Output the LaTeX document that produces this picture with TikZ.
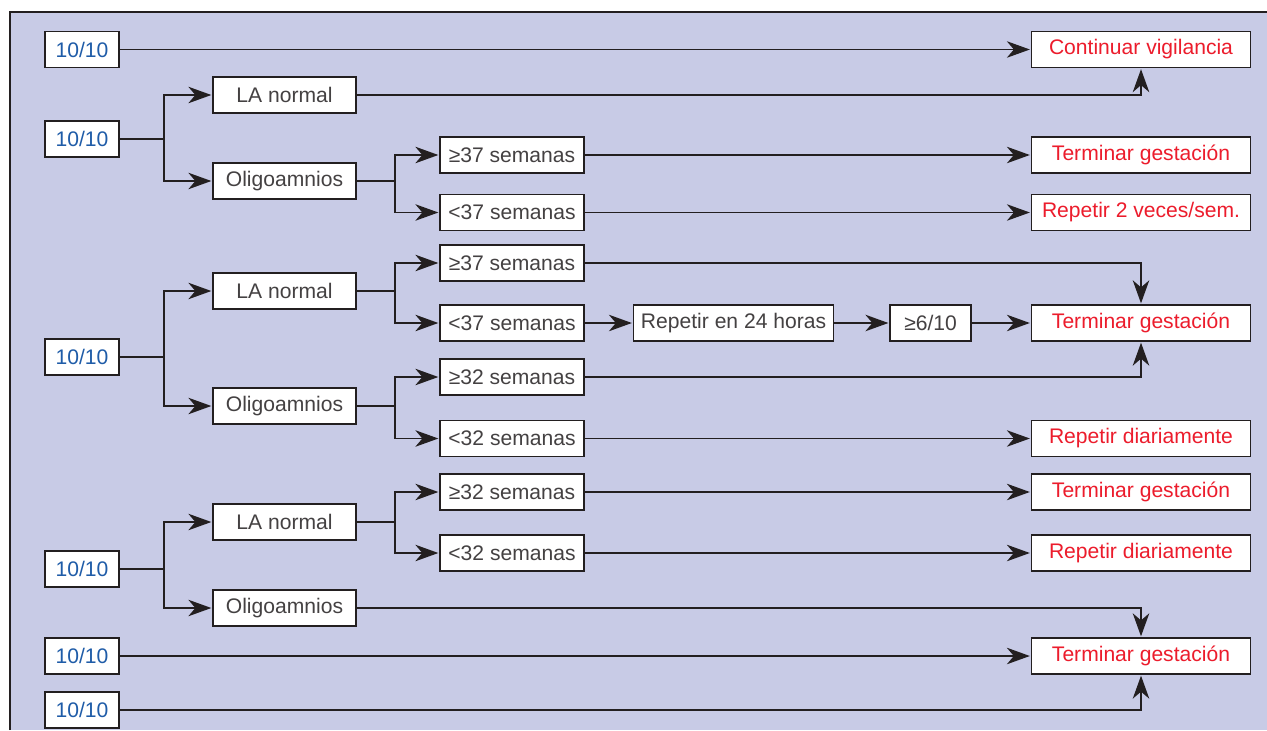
\documentclass[tikz,border=0pt]{standalone}
\usepackage{fontspec}
\setmainfont{Liberation Sans}
\usetikzlibrary{arrows.meta,positioning}
\definecolor{panelfill}{HTML}{C8CBE6}
\definecolor{scoreblue}{HTML}{1F5CA8}
\definecolor{actionred}{HTML}{EC1C2C}
\definecolor{ink}{HTML}{231F20}
\tikzset{
    diagrambox/.style={draw=ink, line width=0.9pt, fill=white, align=center, inner sep=0pt, font=\fontsize{12}{14}\selectfont, minimum height=0.72cm, text=ink!85},
    diagramscore/.style={diagrambox, minimum width=1.48cm, text=scoreblue},
    diagramfind/.style={diagrambox, minimum width=2.86cm},
    diagramweek/.style={diagrambox, minimum width=2.88cm},
    diagramaction/.style={diagrambox, minimum width=4.38cm, text=actionred},
    diagramline/.style={draw=ink, line width=0.85pt},
    diagramarrow/.style={diagramline, -{Stealth[length=4.6mm, width=3.3mm, inset=1.4mm]}, shorten >=0.5pt}
}

\begin{document}
\begin{tikzpicture}[x=0.02cm, y=-0.02cm, node distance=6mm and 7mm]
        \useasboundingbox (0,0) rectangle (1267,730);
        \fill[panelfill] (10,12) rectangle (1267,730);
        \draw[ink, line width=0.9pt] (10,730) -- (10,12) -- (1267,12);
        % puntuaciones
        \node[diagramscore] (pbf1) at (82,49.5) {10/10};
        \node[diagramscore] (pbf2) at (82,139) {10/10};
        \node[diagramscore] (pbf3) at (82,357) {10/10};
        \node[diagramscore] (pbf4) at (82,569) {10/10};
        \node[diagramscore] (pbf5) at (82,656) {10/10};
        \node[diagramscore] (pbf6) at (82,710) {10/10};
        % liquido amniotico
        \node[diagramfind] (la1) at (284.5,95) {LA normal};
        \node[diagramfind] (oli1) at (284.5,181) {Oligoamnios};
        \node[diagramfind] (la2) at (284.5,291) {LA normal};
        \node[diagramfind] (oli2) at (284.5,406) {Oligoamnios};
        \node[diagramfind] (la3) at (284.5,522) {LA normal};
        \node[diagramfind] (oli3) at (284.5,608) {Oligoamnios};
        % semanas
        \node[diagramweek] (w1) at (512,155) {≥37 semanas};
        \node[diagramweek] (w2) at (512,212.5) {<37 semanas};
        \node[diagramweek] (w3) at (512,263) {≥37 semanas};
        \node[diagramweek] (w4) at (512,323) {<37 semanas};
        \node[diagramweek] (w5) at (512,377) {≥32 semanas};
        \node[diagramweek] (w6) at (512,438.5) {<32 semanas};
        \node[diagramweek] (w7) at (512,492) {≥32 semanas};
        \node[diagramweek] (w8) at (512,553) {<32 semanas};
        \node[diagrambox, minimum width=4cm, right=0.96cm of w4] (rep24) {Repetir en 24 horas};
        \node[diagrambox, minimum width=1.62cm, right=1.1cm of rep24] (six) {≥6/10};
        % conducta
        \node[diagramaction] (cont) at (1141,49.5) {Continuar vigilancia};
        \node[diagramaction] (term1) at (1141,155) {Terminar gestación};
        \node[diagramaction] (rep2) at (1141,212.5) {Repetir 2 veces/sem.};
        \node[diagramaction] (term2) at (1141,323) {Terminar gestación};
        \node[diagramaction] (repd1) at (1141,438.5) {Repetir diariamente};
        \node[diagramaction] (term3) at (1141,492) {Terminar gestación};
        \node[diagramaction] (repd2) at (1141,553) {Repetir diariamente};
        \node[diagramaction] (term4) at (1141,656) {Terminar gestación};
        % primer nivel
        \draw[diagramarrow] (pbf1) -- (cont);
        \draw[diagramline] (pbf2.east) -- ++(44,0) coordinate (j2);
        \draw[diagramarrow] (j2) |- (la1);
        \draw[diagramarrow] (j2) |- (oli1);
        \draw[diagramline] (pbf3.east) -- ++(44,0) coordinate (j3);
        \draw[diagramarrow] (j3) |- (la2);
        \draw[diagramarrow] (j3) |- (oli2);
        \draw[diagramline] (pbf4.east) -- ++(44,0) coordinate (j4);
        \draw[diagramarrow] (j4) |- (la3);
        \draw[diagramarrow] (j4) |- (oli3);
        % segundo nivel
        \draw[diagramline] (oli1.east) -- ++(38,0) coordinate (k1);
        \draw[diagramarrow] (k1) |- (w1);
        \draw[diagramarrow] (k1) |- (w2);
        \draw[diagramline] (la2.east) -- ++(38,0) coordinate (k2);
        \draw[diagramarrow] (k2) |- (w3);
        \draw[diagramarrow] (k2) |- (w4);
        \draw[diagramline] (oli2.east) -- ++(38,0) coordinate (k3);
        \draw[diagramarrow] (k3) |- (w5);
        \draw[diagramarrow] (k3) |- (w6);
        \draw[diagramline] (la3.east) -- ++(38,0) coordinate (k4);
        \draw[diagramarrow] (k4) |- (w7);
        \draw[diagramarrow] (k4) |- (w8);
        % hacia la conducta
        \draw[diagramarrow] (la1.east) -| (cont.south);
        \draw[diagramarrow] (w1) -- (term1);
        \draw[diagramarrow] (w2) -- (rep2);
        \draw[diagramarrow] (w3.east) -| (term2.north);
        \draw[diagramarrow] (w4) -- (rep24);
        \draw[diagramarrow] (rep24) -- (six);
        \draw[diagramarrow] (six) -- (term2);
        \draw[diagramarrow] (w5.east) -| (term2.south);
        \draw[diagramarrow] (w6) -- (repd1);
        \draw[diagramarrow] (w7) -- (term3);
        \draw[diagramarrow] (w8) -- (repd2);
        \draw[diagramarrow] (oli3.east) -| (term4.north);
        \draw[diagramarrow] (pbf5) -- (term4);
        \draw[diagramarrow] (pbf6.east) -| (term4.south);
    \end{tikzpicture}
\end{document}
